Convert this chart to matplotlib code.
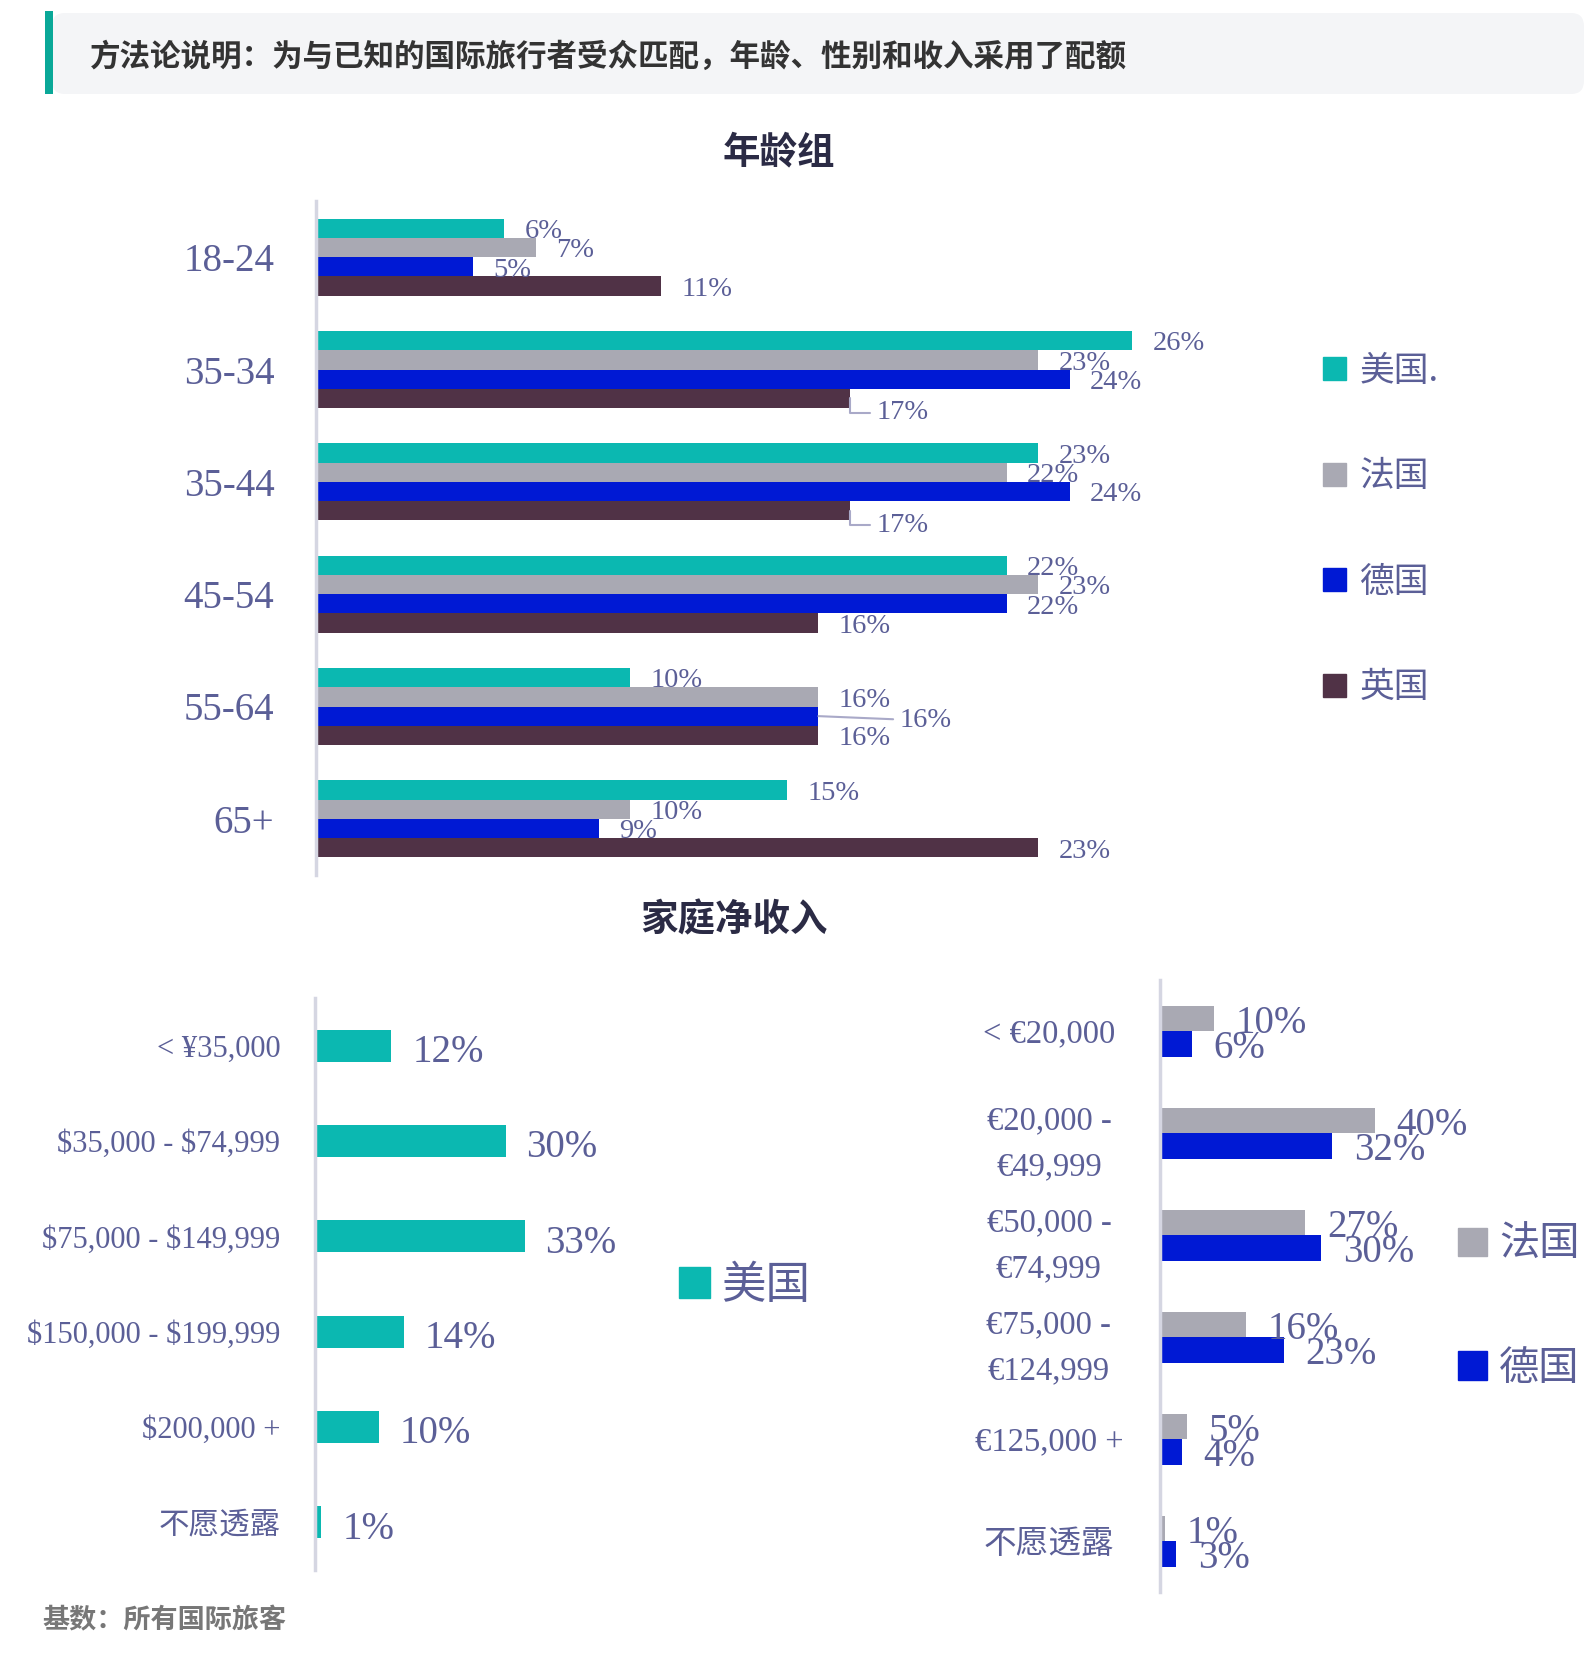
import matplotlib.pyplot as plt
from matplotlib.patches import FancyBboxPatch, Rectangle, Patch

plt.rcParams['font.family'] = ['Liberation Serif', 'Noto Sans CJK SC', 'DejaVu Sans']
plt.rcParams['text.parse_math'] = False

# Data
age_groups = ['18-24', '35-34', '35-44', '45-54', '55-64', '65+']
age_series = ['美国.', '法国', '德国', '英国']
age_us = [6, 26, 23, 22, 10, 15]
age_fr = [7, 23, 22, 23, 16, 10]
age_de = [5, 24, 24, 22, 16, 9]
age_uk = [11, 17, 17, 16, 16, 23]

usd_bands = ['< ¥35,000', '$35,000 - $74,999', '$75,000 - $149,999',
             '$150,000 - $199,999', '$200,000 +', '不愿透露']
usd_us = [12, 30, 33, 14, 10, 1]

eur_bands = ['< €20,000', '€20,000 -\n€49,999', '€50,000 -\n€74,999',
             '€75,000 -\n€124,999', '€125,000 +', '不愿透露']
eur_fr = [10, 40, 27, 16, 5, 1]
eur_de = [6, 32, 30, 23, 4, 3]

teal = '#0bb8b1'
grey = '#a9a9b3'
blue = '#0019d4'
plum = '#503246'
txt = '#5b5f97'
cjk = ['Noto Sans CJK SC', 'DejaVu Sans']

W, H = 1584, 1677
fig = plt.figure(figsize=(W / 100, H / 100), dpi=100)


def fx(px):
    return px / W


def fy(py):
    return 1 - py / H


# header band
fig.patches.append(FancyBboxPatch((fx(52), fy(94)), fx(1584 - 52), fy(13) - fy(94),
                                  boxstyle='round,pad=0,rounding_size=0.008',
                                  transform=fig.transFigure, facecolor='#f4f5f7',
                                  edgecolor='none', zorder=0))
fig.patches.append(Rectangle((fx(45), fy(94)), fx(8), fy(11) - fy(94),
                             transform=fig.transFigure, facecolor='#0aa898',
                             edgecolor='none'))
fig.text(fx(90), fy(57), '方法论说明：为与已知的国际旅行者受众匹配，年龄、性别和收入采用了配额',
         family=cjk, fontweight='bold', fontsize=22, color='#333333', va='center')

fig.text(fx(779), fy(152), '年龄组', family=cjk, fontweight='bold', fontsize=27,
         color='#2b2b45', ha='center', va='center')
fig.text(fx(734), fy(920), '家庭净收入', family=cjk, fontweight='bold', fontsize=27,
         color='#2b2b45', ha='center', va='center')
fig.text(fx(42), fy(1620), '基数：所有国际旅客', family=cjk, fontweight='bold',
         fontsize=19.5, color='#777777', va='center')


def style(ax):
    for s in ['top', 'right', 'bottom']:
        ax.spines[s].set_visible(False)
    ax.spines['left'].set_color('#d5d6e2')
    ax.spines['left'].set_linewidth(2.5)
    ax.set_xticks([])
    ax.tick_params(axis='y', length=0, colors=txt)


leg_kw = dict(frameon=False, labelcolor=txt, borderpad=0, borderaxespad=0)

# ---- age chart ----
ax1 = fig.add_axes([fx(316), fy(875), fx(1240 - 316), fy(201) - fy(875)])
style(ax1)
h = 0.1714
series = [age_us, age_fr, age_de, age_uk]
colors = [teal, grey, blue, plum]
for k, (vals, c) in enumerate(zip(series, colors)):
    ys = [i + (k - 1.5) * h for i in range(len(age_groups))]
    ax1.barh(ys, vals, height=h, color=c, label=age_series[k])
    for i, (y, v) in enumerate(zip(ys, vals)):
        if k == 3 and i in (1, 2):
            # callout with elbow leader
            ax1.annotate(f'{v}%', xy=(v, y), xytext=(v + 0.85, y + 0.13),
                         fontsize=20.5, color=txt, va='center',
                         arrowprops=dict(arrowstyle='-', color='#a9a9c8', lw=1.5,
                                         connectionstyle='angle,angleA=0,angleB=90,rad=0',
                                         shrinkA=3, shrinkB=0))
        elif k == 2 and i == 4:
            ax1.annotate(f'{v}%', xy=(v, y), xytext=(v + 2.6, y + 0.04),
                         fontsize=20.5, color=txt, va='center',
                         arrowprops=dict(arrowstyle='-', color='#a9a9c8', lw=1.5,
                                         shrinkA=3, shrinkB=0))
        else:
            ax1.text(v + 0.65, y + 0.03, f'{v}%', fontsize=20.5, color=txt, va='center')
ax1.set_xlim(0, (1240 - 316) / 31.4)
ax1.set_ylim(5.5, -0.5)
ax1.set_yticks(range(len(age_groups)))
ax1.set_yticklabels(age_groups, fontsize=28)
ax1.tick_params(axis='y', pad=30)
fig.legend(handles=[Patch(color=c) for c in colors], labels=age_series,
           loc='upper left', bbox_to_anchor=(fx(1323), fy(354)),
           handlelength=0.65, handleheight=0.65, handletextpad=0.4,
           labelspacing=2.03, prop={'family': cjk, 'size': 25}, **leg_kw)

# ---- income USD ----
ax2 = fig.add_axes([fx(315), fy(1570), fx(45 * 6.35), fy(998) - fy(1570)])
style(ax2)
yy = list(range(len(usd_bands)))
ax2.barh(yy, usd_us, height=0.336, color=teal, label='美国')
for y, v in zip(yy, usd_us):
    ax2.text(v + 3.3, y + 0.07, f'{v}%', fontsize=28, color=txt, va='center')
ax2.set_xlim(0, 45)
ax2.set_ylim(5.5, -0.5)
ax2.set_yticks(yy)
ax2.set_yticklabels(usd_bands, fontsize=22)
ax2.tick_params(axis='y', pad=25)
fig.legend(handles=[Patch(color=teal)], labels=['美国'], loc='center left',
           bbox_to_anchor=(fx(679), fy(1285)), handlelength=0.7, handleheight=0.7,
           handletextpad=0.25, prop={'family': cjk, 'size': 32}, **leg_kw)

# ---- income EUR ----
ax3 = fig.add_axes([fx(1160), fy(1592), fx(45 * 5.38), fy(980) - fy(1592)])
style(ax3)
h3 = 0.25
for k, (vals, c, name) in enumerate(zip([eur_fr, eur_de], [grey, blue], ['法国', '德国'])):
    ys = [i + (k - 0.5) * h3 for i in range(len(eur_bands))]
    ax3.barh(ys, vals, height=h3, color=c, label=name)
    for y, v in zip(ys, vals):
        ax3.text(v + 4.0, y + 0.05, f'{v}%', fontsize=28, color=txt, va='center')
ax3.set_xlim(0, 45)
ax3.set_ylim(5.5, -0.5)
ax3.set_yticks(range(len(eur_bands)))
ax3.set_yticklabels(eur_bands, fontsize=23.5, ha='center', multialignment='center',
                    linespacing=1.65)
ax3.tick_params(axis='y', pad=80)
fig.legend(handles=[Patch(color=grey), Patch(color=blue)], labels=['法国', '德国'],
           loc='upper left', bbox_to_anchor=(fx(1458), fy(1224)),
           handlelength=0.72, handleheight=0.72, handletextpad=0.3,
           labelspacing=2.05, prop={'family': cjk, 'size': 29}, **leg_kw)

fig.savefig('out.png', dpi=100, facecolor='white')
